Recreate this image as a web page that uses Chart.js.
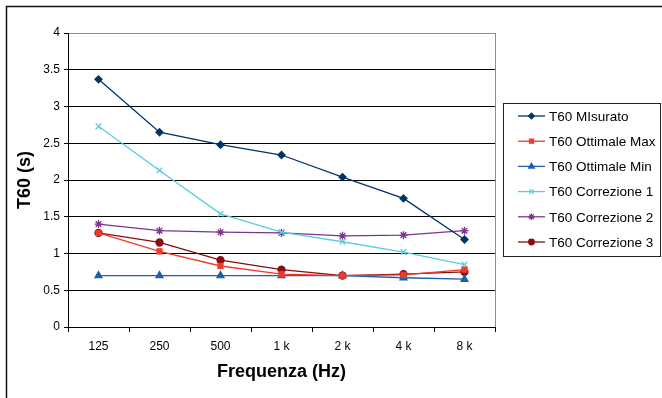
<!DOCTYPE html>
<html>
<head>
<meta charset="utf-8">
<script src="https://cdn.jsdelivr.net/npm/chart.js@4.4.0/dist/chart.umd.min.js"></script>
<style>
    html, body { margin: 0; padding: 0; background: #fff; }
    #wrap { width: 662px; height: 398px; position: relative; }
</style>
</head>
<body>
<div id="wrap"><canvas id="t60Chart" width="662" height="398"></canvas></div>
<script>
const frequencies = ["125", "250", "500", "1 k", "2 k", "4 k", "8 k"];
const yTicks = [0, 0.5, 1, 1.5, 2, 2.5, 3, 3.5, 4];

const misurato     = [3.37, 2.65, 2.48, 2.34, 2.04, 1.75, 1.19];
const ottimaleMax  = [1.28, 1.03, 0.83, 0.72, 0.70, 0.71, 0.78];
const ottimaleMin  = [0.70, 0.70, 0.70, 0.70, 0.70, 0.67, 0.65];
const correzione1  = [2.73, 2.13, 1.54, 1.29, 1.16, 1.02, 0.85];
const correzione2  = [1.40, 1.31, 1.29, 1.28, 1.24, 1.25, 1.31];
const correzione3  = [1.28, 1.15, 0.91, 0.78, 0.70, 0.72, 0.75];

function series(label, data, color, pointStyle, radius) {
    return {
        label: label,
        data: data,
        borderColor: color,
        backgroundColor: color,
        pointBorderColor: color,
        pointBackgroundColor: color,
        borderWidth: 1.3,
        pointStyle: pointStyle,
        pointRadius: radius,
        pointBorderWidth: 1.3,
        tension: 0,
    };
}

const datasets = [
    series("T60 MIsurato", misurato, "#003468", "rectRot", 3.5),
    series("T60 Ottimale Max", ottimaleMax, "#f03a2c", "rect", 3.5),
    series("T60 Ottimale Min", ottimaleMin, "#1c5fae", "triangle", 4),
    series("T60 Correzione 1", correzione1, "#5ccbe0", "crossRot", 4),
    series("T60 Correzione 2", correzione2, "#7b3590", "star", 4),
    series("T60 Correzione 3", correzione3, "#8a0d0d", "circle", 3.5),
];

// frame, right border of the plot and the boxed legend
const decorations = {
    id: "decorations",
    afterDraw(chart) {
        const ctx = chart.ctx;
        const area = chart.chartArea;
        ctx.save();

        ctx.strokeStyle = "#111";
        ctx.lineWidth = 1.5;
        ctx.strokeRect(6.5, 6.5, 720, 500);

        ctx.strokeStyle = "#8c8c8c";
        ctx.lineWidth = 1;
        ctx.beginPath();
        ctx.moveTo(Math.round(area.right) + 0.5, area.top);
        ctx.lineTo(Math.round(area.right) + 0.5, area.bottom);
        ctx.stroke();

        ctx.strokeStyle = "#222";
        ctx.strokeRect(503.5, 103.5, 157, 153);

        ctx.font = "13.5px 'Liberation Sans', Arial, sans-serif";
        ctx.textBaseline = "middle";
        ctx.fillStyle = "#000";
        chart.data.datasets.forEach((ds, i) => {
            const y = 116 + i * 25.2;
            ctx.strokeStyle = ds.borderColor;
            ctx.lineWidth = 1.3;
            ctx.beginPath();
            ctx.moveTo(518, y);
            ctx.lineTo(545, y);
            ctx.stroke();
            ctx.fillStyle = ds.borderColor;
            Chart.helpers.drawPoint(ctx, {
                pointStyle: ds.pointStyle,
                radius: ds.pointRadius * 0.8,
                borderWidth: 1.3,
                rotation: 0,
            }, 531.5, y);
            ctx.fillStyle = "#000";
            ctx.fillText(ds.label, 549, y + 1);
        });
        ctx.restore();
    }
};

const ctx = document.getElementById("t60Chart").getContext("2d");
new Chart(ctx, {
    type: "line",
    data: {
        labels: frequencies,
        datasets: datasets,
    },
    options: {
        responsive: false,
        animation: false,
        layout: {
            padding: { left: 0, top: 33, right: 167, bottom: 0 },
        },
        plugins: {
            legend: { display: false },
            tooltip: { enabled: false },
        },
        scales: {
            x: {
                offset: true,
                grid: {
                    offset: true,
                    drawOnChartArea: false,
                    drawTicks: true,
                    tickLength: 5,
                    tickColor: "#000",
                },
                border: { color: "#000", width: 1 },
                ticks: {
                    color: "#000",
                    padding: 7,
                    font: { family: "'Liberation Sans', Arial, sans-serif", size: 12 },
                },
                title: {
                    display: true,
                    text: "Frequenza (Hz)",
                    color: "#000",
                    font: { family: "'Liberation Sans', Arial, sans-serif", size: 18, weight: "bold" },
                    padding: { top: 0, bottom: 15 },
                },
                afterFit(scale) { scale.height = 71; },
            },
            y: {
                min: 0,
                max: 4,
                afterBuildTicks(scale) {
                    scale.ticks = yTicks.map(v => ({ value: v }));
                },
                grid: {
                    color: ctx => (ctx.tick && ctx.tick.value === 4 ? "#8c8c8c" : (ctx.tick && ctx.tick.value === 0 ? "rgba(0,0,0,0)" : "#000")),
                    tickColor: "#000",
                    tickLength: 4,
                    lineWidth: 1,
                },
                border: { color: "#000", width: 1 },
                ticks: {
                    color: "#000",
                    padding: 4,
                    font: { family: "'Liberation Sans', Arial, sans-serif", size: 12 },
                    callback: v => String(v),
                },
                title: {
                    display: true,
                    text: "T60 (s)",
                    color: "#000",
                    font: { family: "'Liberation Sans', Arial, sans-serif", size: 18, weight: "bold" },
                    padding: { top: 14, bottom: 0 },
                },
                afterFit(scale) { scale.width = 68; },
            },
        },
    },
    plugins: [decorations],
});
</script>
</body>
</html>
